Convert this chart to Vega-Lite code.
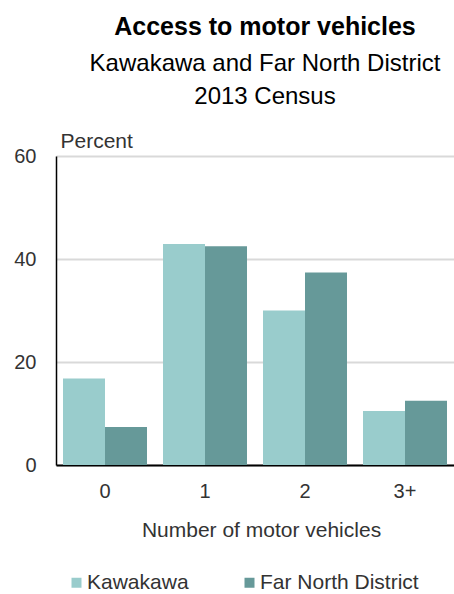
{
  "$schema": "https://vega.github.io/schema/vega-lite/v6.json",
  "width": 398,
  "height": 309,
  "autosize": {"type": "none"},
  "padding": {"left": 56, "top": 156, "right": 0, "bottom": 129},
  "background": "white",
  "config": {
    "font": "Liberation Sans",
    "view": {"stroke": null},
    "axis": {"labelFont": "Liberation Sans", "titleFont": "Liberation Sans"},
    "legend": {"labelFont": "Liberation Sans"}
  },
  "title": {
    "text": "Access to motor vehicles",
    "subtitle": ["Kawakawa and Far North District", "2013 Census"],
    "fontSize": 25,
    "fontWeight": "bold",
    "color": "#000000",
    "subtitleFontSize": 24,
    "subtitleColor": "#000000",
    "subtitleLineHeight": 33,
    "subtitlePadding": 12,
    "anchor": "middle",
    "dx": 10,
    "offset": 21
  },
  "data": {
    "values": [
      {"vehicles": "0", "area": "Kawakawa", "percent": 16.8},
      {"vehicles": "0", "area": "Far North District", "percent": 7.4},
      {"vehicles": "1", "area": "Kawakawa", "percent": 42.9},
      {"vehicles": "1", "area": "Far North District", "percent": 42.5},
      {"vehicles": "2", "area": "Kawakawa", "percent": 30.0},
      {"vehicles": "2", "area": "Far North District", "percent": 37.4},
      {"vehicles": "3+", "area": "Kawakawa", "percent": 10.5},
      {"vehicles": "3+", "area": "Far North District", "percent": 12.5}
    ]
  },
  "mark": {"type": "bar"},
  "encoding": {
    "x": {
      "field": "vehicles",
      "type": "nominal",
      "sort": ["0", "1", "2", "3+"],
      "scale": {"paddingInner": 0.16, "paddingOuter": 0.07},
      "axis": {
        "title": "Number of motor vehicles",
        "labelAngle": 0,
        "ticks": false,
        "domainColor": "#000000",
        "domainWidth": 2,
        "labelFontSize": 20,
        "labelColor": "#333333",
        "labelPadding": 16,
        "titleFontSize": 21,
        "titleFontWeight": "normal",
        "titleColor": "#333333",
        "titlePadding": 18,
        "titleX": 205,
        "grid": false
      }
    },
    "xOffset": {
      "field": "area",
      "type": "nominal",
      "sort": ["Kawakawa", "Far North District"],
      "scale": {"paddingInner": 0, "paddingOuter": 0}
    },
    "y": {
      "field": "percent",
      "type": "quantitative",
      "scale": {"domain": [0, 60]},
      "axis": {
        "title": "Percent",
        "titleAngle": 0,
        "titleAlign": "left",
        "titleBaseline": "alphabetic",
        "titleX": 4,
        "titleY": -9,
        "titleFontSize": 21,
        "titleFontWeight": "normal",
        "titleColor": "#333333",
        "values": [0, 20, 40, 60],
        "ticks": false,
        "domain": true,
        "domainColor": "#000000",
        "domainWidth": 1.5,
        "gridColor": "#d9d9d9",
        "gridWidth": 2,
        "labelFontSize": 20,
        "labelColor": "#333333",
        "labelPadding": 20
      }
    },
    "color": {
      "field": "area",
      "type": "nominal",
      "sort": ["Kawakawa", "Far North District"],
      "scale": {"domain": ["Kawakawa", "Far North District"], "range": ["#99cccc", "#669999"]},
      "legend": {
        "title": null,
        "orient": "none",
        "legendX": 10,
        "legendY": 416,
        "direction": "horizontal",
        "symbolType": "square",
        "symbolSize": 100,
        "symbolStrokeWidth": 0,
        "labelFontSize": 21,
        "labelColor": "#333333",
        "labelOffset": 0,
        "columnPadding": 50
      }
    }
  }
}
